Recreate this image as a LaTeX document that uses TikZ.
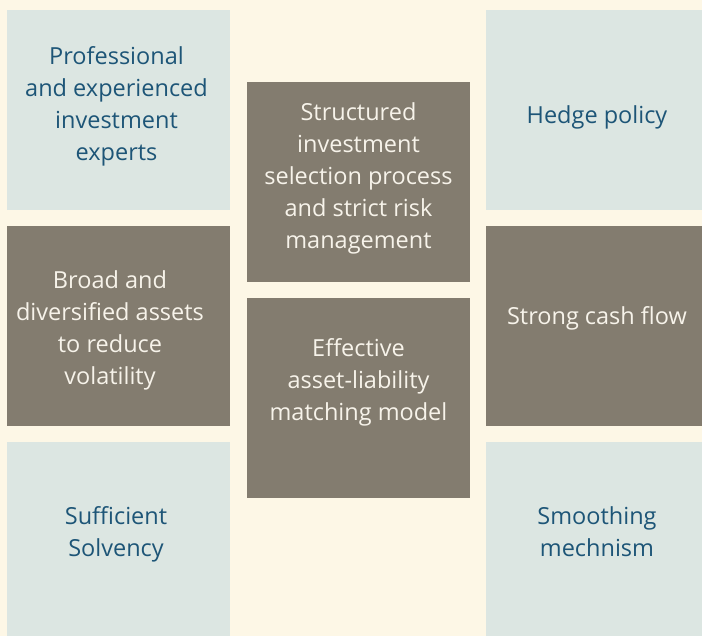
\documentclass[tikz,border=0pt]{standalone}
\usepackage{fontspec}
\setmainfont{Open Sans}
\definecolor{bgc}{HTML}{FDF7E6}
\definecolor{lightc}{HTML}{DCE6E2}
\definecolor{darkc}{HTML}{837C6F}
\definecolor{bluet}{HTML}{1D5577}
\definecolor{whitet}{HTML}{F7F3EA}
\tikzset{
  cell/.style={fill=#1, draw=none, anchor=north west, inner sep=0pt},
  lt/.style={text=bluet, align=center, font=\fontsize{23.5}{32}\selectfont},
  dt/.style={text=whitet, align=center, font=\fontsize{23.5}{32}\selectfont},
}
\begin{document}
\begin{tikzpicture}[x=1pt,y=-1pt]
\fill[bgc] (0,0) rectangle (702,636);
\useasboundingbox (0,0) rectangle (702,636);
% left column
\node[cell=lightc, minimum width=223pt, minimum height=200pt] (l1) at (7,10) {};
\node[cell=darkc, minimum width=223pt, minimum height=200pt] (l2) at (7,226) {};
\node[cell=lightc, minimum width=223pt, minimum height=194pt] (l3) at (7,442) {};
% middle column
\node[cell=darkc, minimum width=223pt, minimum height=200pt] (m1) at (247,82) {};
\node[cell=darkc, minimum width=223pt, minimum height=200pt] (m2) at (247,298) {};
% right column
\node[cell=lightc, minimum width=216pt, minimum height=200pt] (r1) at (486,10) {};
\node[cell=darkc, minimum width=216pt, minimum height=200pt] (r2) at (486,226) {};
\node[cell=lightc, minimum width=216pt, minimum height=194pt] (r3) at (486,442) {};
% texts
\node[lt] (t1) at (116.5,106) {Professional\\and experienced\\investment\\experts};
\node[dt] (t2) at (110,330) {Broad and\\diversified assets\\to reduce\\volatility};
\node[lt] (t3) at (116,534) {Sufficient\\Solvency};
\node[dt] (t4) at (358.5,178) {Structured\\investment\\selection process\\and strict risk\\management};
\node[dt] (t5) at (358.5,382) {Effective\\asset-liability\\matching model};
\node[lt] (t6) at (597,117) {Hedge policy};
\node[dt] (t7) at (597,318) {Strong cash flow};
\node[lt] (t8) at (597,532) {Smoothing\\mechnism};
\end{tikzpicture}
\end{document}
